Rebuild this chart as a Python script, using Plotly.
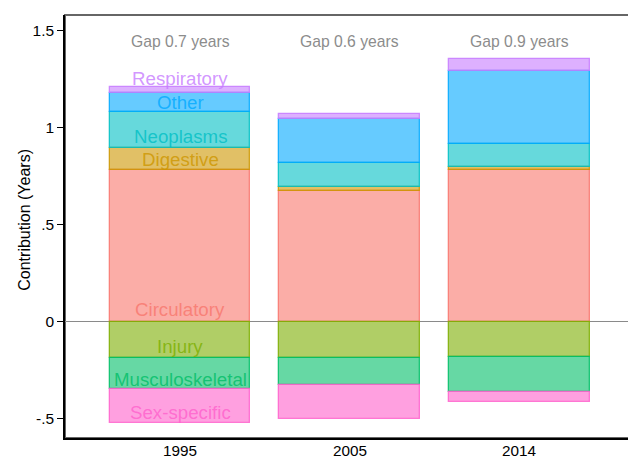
import plotly.graph_objects as go

years = ["1995", "2005", "2014"]
causes = ["Circulatory", "Digestive", "Injury", "Musculoskeletal", "Neoplasms",
          "Other", "Respiratory", "Sex-specific"]
colors = ["248,118,109", "205,150,0", "124,174,0", "0,190,103", "0,191,196",
          "0,169,255", "199,124,255", "255,97,204"]
values = {
    "Circulatory":     [0.780, 0.675, 0.780],
    "Digestive":       [0.117, 0.020, 0.020],
    "Injury":          [-0.190, -0.190, -0.181],
    "Musculoskeletal": [-0.160, -0.136, -0.182],
    "Neoplasms":       [0.185, 0.124, 0.115],
    "Other":           [0.096, 0.226, 0.378],
    "Respiratory":     [0.035, 0.028, 0.060],
    "Sex-specific":    [-0.175, -0.178, -0.052],
}
gaps = ["Gap 0.7 years", "Gap 0.6 years", "Gap 0.9 years"]
gap_y = 1.447
# label text positions (value axis) for the 1995 bar
label_y = {
    "Respiratory": 1.254, "Other": 1.13, "Neoplasms": 0.956, "Digestive": 0.839,
    "Circulatory": 0.065, "Injury": -0.126, "Musculoskeletal": -0.30,
    "Sex-specific": -0.47,
}

FONT = "Arial, Liberation Sans, sans-serif"
xs = list(range(len(years)))

fig = go.Figure()
for c, col in zip(causes, colors):
    fig.add_trace(go.Bar(
        x=xs, y=values[c], name=c, width=0.83,
        marker=dict(color=f"rgba({col},0.6)",
                    line=dict(color=f"rgba({col},0.85)", width=1.3)),
        showlegend=False, hoverinfo="name+y",
    ))

annotations = []
for x, g in zip(xs, gaps):
    annotations.append(dict(x=x, y=gap_y, text=g, showarrow=False,
                            font=dict(family=FONT, size=15.7, color="#8c8c8c"),
                            xref="x", yref="y"))
for c, col in zip(causes, colors):
    annotations.append(dict(x=xs[0], y=label_y[c], text=c, showarrow=False,
                            font=dict(family=FONT, size=18.7, color=f"rgba({col},0.8)"),
                            xref="x", yref="y"))
# category (year) labels under the axis
for x, yr in zip(xs, years):
    annotations.append(dict(x=x, y=0, xref="x", yref="paper", yshift=-12,
                            xanchor="center", yanchor="middle", text=yr,
                            showarrow=False,
                            font=dict(family=FONT, size=15.3, color="black")))
annotations.append(dict(x=0, y=0.516, xref="paper", yref="paper", xshift=-40,
                        xanchor="center", yanchor="middle", textangle=-90,
                        text="Contribution (Years)", showarrow=False,
                        font=dict(family=FONT, size=16, color="black")))

# the page body has an 8px margin, so the figure is drawn 8px smaller/shifted
fig.update_layout(
    width=628, height=451,
    margin=dict(l=57, r=3, t=7, b=21, autoexpand=False),
    barmode="relative",
    bargap=0,
    paper_bgcolor="white", plot_bgcolor="white",
    font=dict(family=FONT, size=15, color="black"),
    annotations=annotations,
    shapes=[dict(type="rect", xref="paper", yref="paper", x0=0, y0=0, x1=1, y1=1,
                 line=dict(color="#666666", width=2), layer="below")],
)
fig.update_xaxes(
    range=[-0.678, 2.670], tickvals=xs, ticktext=years, showticklabels=False,
    showgrid=False, zeroline=False, showline=True, linecolor="black",
    linewidth=1.5, ticks="", automargin=False,
)
fig.update_yaxes(
    range=[-0.6005, 1.582], tickvals=[-0.5, 0, 0.5, 1, 1.5],
    ticktext=["-.5", "0", ".5", "1", "1.5"], showgrid=False,
    zeroline=True, zerolinecolor="#8a8a8a", zerolinewidth=1,
    showline=True, linecolor="black", linewidth=1.5,
    ticks="outside", ticklen=6, tickcolor="black", tickwidth=1,
    tickfont=dict(size=15.5), automargin=False,
)
fig.write_html("out.html")
